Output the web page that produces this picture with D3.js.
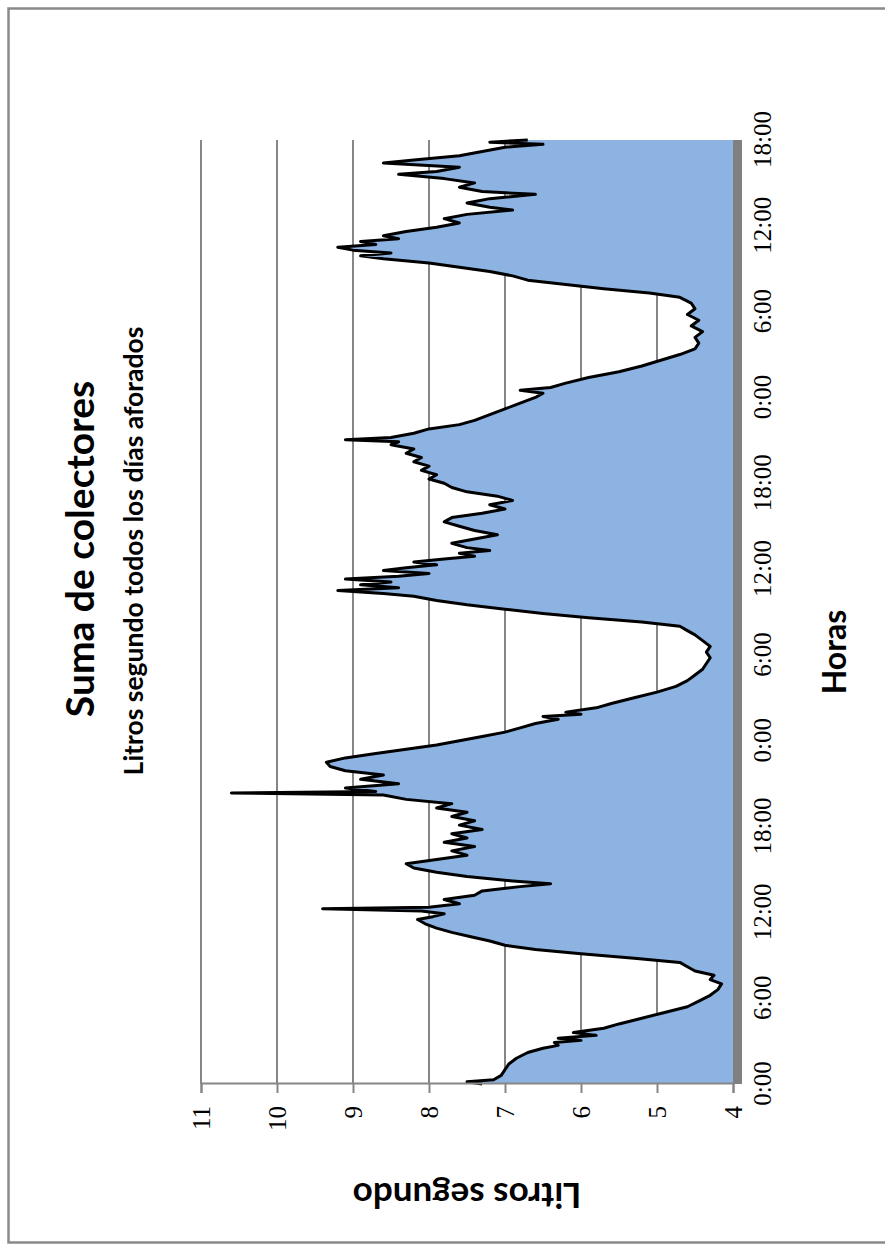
<!DOCTYPE html>
<html><head><meta charset="utf-8">
<script src="https://cdn.jsdelivr.net/npm/d3@7"></script>
<style>body{margin:0;background:#fff}svg{display:block}</style>
</head><body>
<svg id="chart" width="885" height="1245"></svg>
<script>
// ---- data (hours since first 0:00, litros/segundo) ----
const hours = [0,0.15,0.3,0.6,1.0,1.4,1.8,2.2,2.5,2.7,2.9,3.05,3.2,3.4,3.6,3.9,4.2,4.6,5.0,5.4,5.8,6.2,6.6,7.0,7.3,7.6,7.9,8.2,8.5,8.8,9.1,9.4,9.7,10.0,10.3,10.6,10.9,11.2,11.5,11.7,11.9,12.1,12.25,12.35,12.6,12.9,13.2,13.5,13.8,14.0,14.2,14.5,14.8,15.1,15.4,15.7,16.0,16.3,16.6,16.9,17.2,17.5,17.8,18.1,18.4,18.7,19.0,19.3,19.6,19.9,20.2,20.35,20.45,20.7,21.0,21.3,21.6,21.9,22.2,22.5,22.8,23.1,23.4,23.7,24.0,
24.3,24.6,24.9,25.2,25.5,25.7,25.85,26.0,26.3,26.6,27.0,27.4,27.8,28.2,28.6,29.0,29.4,29.8,30.2,30.6,31.0,31.4,31.7,32.0,32.3,32.6,32.9,33.2,33.5,33.8,34.1,34.3,34.5,34.7,34.9,35.1,35.3,35.5,35.7,35.9,36.1,36.3,36.5,36.7,36.9,37.1,37.3,37.5,37.8,38.1,38.4,38.7,39.0,39.3,39.6,39.9,40.2,40.5,40.8,41.1,41.4,41.7,42.0,42.3,42.6,42.9,43.2,43.5,43.8,44.1,44.4,44.7,44.9,45.05,45.2,45.5,45.8,46.1,46.4,46.8,47.2,47.6,48.0,
48.3,48.5,48.7,49.0,49.4,49.8,50.2,50.6,51.0,51.4,51.8,52.2,52.6,53.0,53.4,53.8,54.2,54.6,55.0,55.3,55.6,55.9,56.2,56.5,56.8,57.1,57.4,57.7,57.9,58.1,58.3,58.5,58.7,58.9,59.1,59.3,59.6,59.9,60.2,60.5,60.8,61.1,61.3,61.6,61.9,62.2,62.4,62.7,63.0,63.3,63.6,63.8,64.1,64.4,64.6,64.9,65.2,65.5,65.7,65.85,66.0];
const litros = [7.3,7.5,7.15,7.05,7.0,6.95,6.85,6.7,6.5,6.3,6.35,6.0,6.3,5.8,6.1,5.7,5.5,5.2,4.9,4.6,4.45,4.3,4.2,4.15,4.3,4.25,4.5,4.6,4.7,5.3,6.0,6.6,7.0,7.2,7.45,7.7,7.9,8.05,8.15,7.95,7.8,8.1,9.4,8.0,7.6,7.8,7.4,7.3,6.8,6.4,6.9,7.5,7.9,8.2,8.3,7.9,7.5,7.7,7.4,7.8,7.5,7.7,7.3,7.6,7.4,7.7,7.5,7.9,7.7,8.3,8.6,10.6,8.7,9.1,8.4,8.9,8.6,9.1,9.3,9.35,9.1,8.7,8.3,7.9,7.6,
7.3,7.0,6.8,6.6,6.3,6.5,6.0,6.2,5.8,5.6,5.3,5.0,4.75,4.6,4.5,4.4,4.35,4.3,4.35,4.3,4.4,4.5,4.6,4.7,5.2,5.9,6.5,7.0,7.5,7.9,8.2,8.6,9.2,8.4,8.9,8.5,9.1,8.4,8.0,8.6,8.3,7.9,8.2,7.8,7.4,7.6,7.2,7.5,7.7,7.4,7.1,7.4,7.6,7.8,7.7,7.3,7.0,7.2,6.9,7.1,7.5,7.7,7.8,8.0,7.9,8.1,8.0,8.2,8.1,8.3,8.2,8.5,8.4,9.1,8.5,8.2,8.0,7.6,7.4,7.2,7.0,6.8,6.6,
6.5,6.8,6.4,6.2,5.9,5.5,5.2,4.95,4.7,4.5,4.45,4.5,4.4,4.55,4.45,4.6,4.5,4.55,4.7,5.1,5.7,6.2,6.7,6.9,7.2,7.6,8.0,8.6,8.9,8.5,9.0,9.2,8.7,8.9,8.4,8.6,8.3,7.9,7.6,7.8,7.5,6.9,7.2,7.5,7.2,6.6,7.3,7.6,7.4,7.8,8.4,7.9,7.6,8.6,8.2,7.6,7.3,7.0,6.5,7.2,6.7];
const valueTicks = [4,5,6,7,8,9,10,11];
const timeTicks = [0,6,12,18,24,30,36,42,48,54,60,66];
const timeLabels = ["0:00","6:00","12:00","18:00","0:00","6:00","12:00","18:00","0:00","6:00","12:00","18:00"];
const titleText = "Suma de colectores";
const subtitleText = "Litros segundo todos los días aforados";
const yTitle = "Litros segundo";
const xTitle = "Horas";

const data = hours.map((h,i)=>({h, v: litros[i]}));

const svg = d3.select("#chart");
svg.append("rect").attr("x",8.5).attr("y",8.5).attr("width",900).attr("height",1234)
  .attr("fill","#fff").attr("stroke","#8a8a8a").attr("stroke-width",2.5);

// landscape chart, rotated 90° counter-clockwise onto the page
const L = 1245;
const g = svg.append("g").attr("transform",`translate(0,${L}) rotate(-90)`);

const x = d3.scaleLinear().domain([0,66]).range([161,1105]);
const y = d3.scaleLinear().domain([4,11]).range([733,201]);

const serif = "'Liberation Serif','DejaVu Serif',serif";
const sans = "Lato,'Open Sans',sans-serif";

// gridlines
g.append("g").selectAll("line").data(valueTicks.filter(d=>d>4)).join("line")
  .attr("x1",x(0)).attr("x2",x(66)).attr("y1",d=>y(d)).attr("y2",d=>y(d))
  .attr("stroke","#868686").attr("stroke-width",2);

// area + line
const area = d3.area().x(d=>x(d.h)).y0(y(4)).y1(d=>y(d.v));
g.append("path").datum(data).attr("d",area).attr("fill","#8db3e2");
const line = d3.line().x(d=>x(d.h)).y(d=>y(d.v));
g.append("path").datum(data).attr("d",line).attr("fill","none")
  .attr("stroke","#000").attr("stroke-width",3).attr("stroke-linejoin","round");

// value axis (left in landscape)
const yAxis = d3.axisLeft(y).tickValues(valueTicks).tickSize(9).tickPadding(13).tickFormat(d3.format("d"));
const ya = g.append("g").attr("transform",`translate(${x(0)},0)`).call(yAxis);
ya.select(".domain").attr("stroke","#868686").attr("stroke-width",2);
ya.selectAll(".tick line").attr("stroke","#868686").attr("stroke-width",2);
ya.selectAll(".tick text").attr("font-family",serif).attr("font-size",25).attr("fill","#000");

// category axis: thick bar at the baseline
g.append("line").attr("x1",x(0)).attr("x2",x(66)).attr("y1",y(4)+4.5).attr("y2",y(4)+4.5)
  .attr("stroke","#808080").attr("stroke-width",9);
const xAxis = d3.axisBottom(x).tickValues(timeTicks).tickSize(0).tickPadding(0)
  .tickFormat((d,i)=>timeLabels[i]);
const xa = g.append("g").attr("transform",`translate(0,${y(4)+20})`).call(xAxis);
xa.select(".domain").remove();
xa.selectAll(".tick text").attr("font-family",serif).attr("font-size",25).attr("fill","#000");

// titles
g.append("text").attr("x",696).attr("y",94).attr("text-anchor","middle")
  .attr("font-family",sans).attr("font-weight","bold").attr("font-size",39).text(titleText);
g.append("text").attr("x",694).attr("y",143).attr("text-anchor","middle")
  .attr("font-family",sans).attr("font-weight","bold").attr("font-size",26.5).text(subtitleText);
g.append("text").attr("transform",`translate(62,${(y(4)+y(11))/2}) rotate(-90)`).attr("text-anchor","middle")
  .attr("font-family",sans).attr("font-weight","bold").attr("font-size",35).text(yTitle);
g.append("text").attr("x",593).attr("y",846).attr("text-anchor","middle")
  .attr("font-family",sans).attr("font-weight","bold").attr("font-size",32).text(xTitle);
</script>
</body></html>
